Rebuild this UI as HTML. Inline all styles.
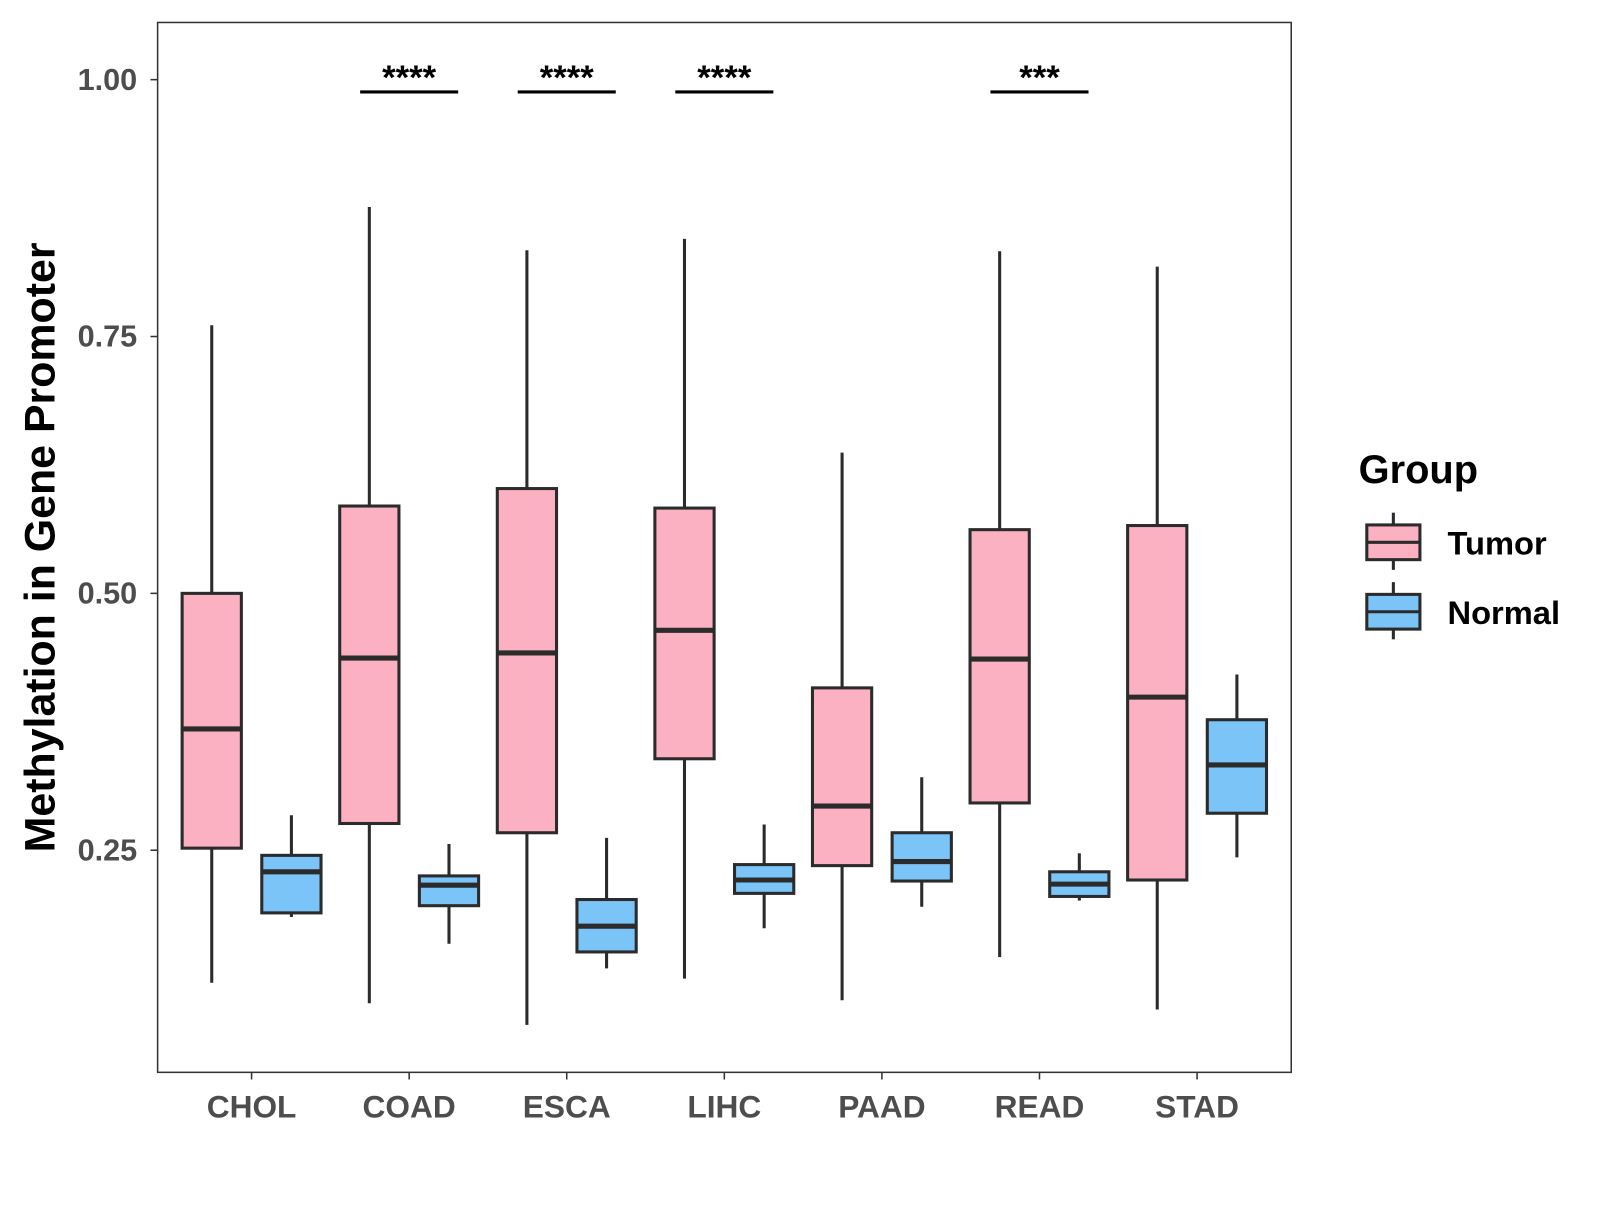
<!DOCTYPE html>
<html><head><meta charset="utf-8"><style>
html,body{margin:0;padding:0;background:#fff;}
svg text{font-family:"Liberation Sans",Arial,sans-serif;font-weight:bold;}
</style></head><body>
<svg id="chart" width="1600" height="1200" viewBox="0 0 1566 1175" xmlns="http://www.w3.org/2000/svg">
<rect x="0" y="0" width="1566" height="1175" fill="#fff"/>
<rect x="154" y="22" width="1110" height="1028" fill="none" stroke="#333" stroke-width="1.5"/>
<text transform="translate(53,536) rotate(-90)" text-anchor="middle" font-size="42" fill="#000">Methylation in Gene Promoter</text>
<g id="legend">
<text x="1330" y="473" font-size="39" fill="#000">Group</text>
<g>
<line x1="1364" y1="502" x2="1364" y2="558" stroke="#2b2b2b" stroke-width="3"/>
<rect x="1338" y="514" width="52" height="34" fill="#fcb1c3" stroke="#2b2b2b" stroke-width="3"/>
<line x1="1338" y1="531" x2="1390" y2="531" stroke="#2b2b2b" stroke-width="3"/>
<text x="1417" y="543" font-size="32" fill="#000">Tumor</text></g>
<g>
<line x1="1364" y1="570" x2="1364" y2="626" stroke="#2b2b2b" stroke-width="3"/>
<rect x="1338" y="582" width="52" height="34" fill="#7ac4f8" stroke="#2b2b2b" stroke-width="3"/>
<line x1="1338" y1="599" x2="1390" y2="599" stroke="#2b2b2b" stroke-width="3"/>
<text x="1417" y="611" font-size="32" fill="#000">Normal</text></g>
</g>
</svg>
<script>
const categories=["CHOL","COAD","ESCA","LIHC","PAAD","READ","STAD"];
const tumorMin=[0.121,0.101,0.080,0.125,0.104,0.146,0.095];
const tumorQ1=[0.252,0.276,0.267,0.339,0.235,0.296,0.221];
const tumorMed=[0.368,0.437,0.442,0.464,0.293,0.436,0.399];
const tumorQ3=[0.500,0.585,0.602,0.583,0.408,0.562,0.566];
const tumorMax=[0.761,0.876,0.834,0.845,0.637,0.833,0.818];
const normalMin=[0.185,0.159,0.135,0.174,0.195,0.201,0.243];
const normalQ1=[0.189,0.196,0.151,0.208,0.220,0.205,0.286];
const normalMed=[0.229,0.216,0.176,0.221,0.239,0.217,0.333];
const normalQ3=[0.245,0.225,0.202,0.236,0.267,0.229,0.377];
const normalMax=[0.284,0.256,0.262,0.275,0.321,0.247,0.421];
const sigLabels=["","****","****","****","","***",""];
const yTicks=[0.25,0.5,0.75,1.0];
const yTickLabels=["0.25","0.50","0.75","1.00"];
const svg=document.getElementById('chart');
const NS="http://www.w3.org/2000/svg";
function y(v){return 78+(1-v)*1006;}
function x(i){return 246+i*154.3;}
function mk(tag,attrs,parent){const e=document.createElementNS(NS,tag);for(const k in attrs)e.setAttribute(k,attrs[k]);(parent||svg).appendChild(e);return e;}
yTicks.forEach((t,i)=>{
  const l=mk('line',{x1:147,x2:154,y1:y(t),y2:y(t),stroke:'#333','stroke-width':1.5});
  
  
  const tx=mk('text',{x:134,y:y(t)+10,'text-anchor':'end','font-size':30,fill:'#4d4d4d'});
  tx.textContent=yTickLabels[i];
  
  
});
function box(cx,mn,q1,md,q3,mx,fill,name){
  const g=mk('g',{});
  
  
  mk('line',{x1:cx,x2:cx,y1:y(mx),y2:y(mn),stroke:'#2b2b2b','stroke-width':3},g);
  mk('rect',{x:cx-29,y:y(q3),width:58,height:y(q1)-y(q3),fill:fill,stroke:'#2b2b2b','stroke-width':3},g);
  mk('line',{x1:cx-29,x2:cx+29,y1:y(md),y2:y(md),stroke:'#2b2b2b','stroke-width':5},g);
}
categories.forEach((c,i)=>{
  const cx=x(i);
  box(cx-39,tumorMin[i],tumorQ1[i],tumorMed[i],tumorQ3[i],tumorMax[i],'#fcb1c3','box-tumor-'+c.toLowerCase());
  box(cx+39,normalMin[i],normalQ1[i],normalMed[i],normalQ3[i],normalMax[i],'#7ac4f8','box-normal-'+c.toLowerCase());
  const tk=mk('line',{x1:cx,x2:cx,y1:1050,y2:1057,stroke:'#333','stroke-width':1.5});
  
  
  const t=mk('text',{x:cx,y:1094,'text-anchor':'middle','font-size':31,fill:'#4d4d4d'});
  t.textContent=c;
  
  
  if(sigLabels[i]){
    const l=mk('line',{x1:cx-48,x2:cx+48,y1:90,y2:90,stroke:'#000','stroke-width':3});
    
    
    const s=mk('text',{x:cx,y:87,'text-anchor':'middle','font-size':34,fill:'#000'});
    s.textContent=sigLabels[i];
    
    
  }
});
</script>
</body></html>
